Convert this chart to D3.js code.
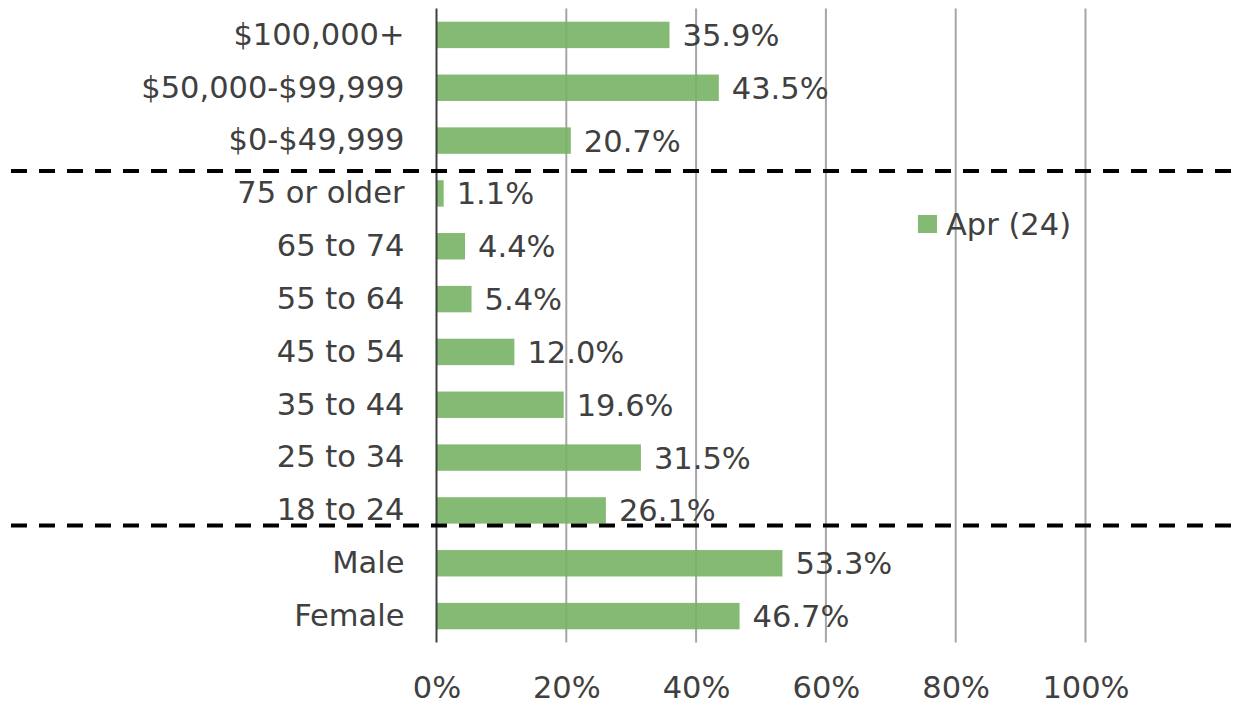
<!DOCTYPE html>
<html lang="en">
  <head>
    <meta charset="UTF-8" />
    <title>Apr (24) breakdown</title>
    <style>
      body { margin: 0; background: #fff; }
      text { font-family: "DejaVu Sans", sans-serif; fill: #404040; }
    </style>
  </head>
  <body>
    <svg width="1233" height="708"></svg>

    <script src="https://d3js.org/d3.v7.min.js"></script>
    <script>
      const categories = [
        "$100,000+", "$50,000-$99,999", "$0-$49,999",
        "75 or older", "65 to 74", "55 to 64", "45 to 54",
        "35 to 44", "25 to 34", "18 to 24",
        "Male", "Female"
      ];
      const values = [35.9, 43.5, 20.7, 1.1, 4.4, 5.4, 12.0, 19.6, 31.5, 26.1, 53.3, 46.7];
      const seriesName = "Apr (24)";
      const tickValues = [0, 20, 40, 60, 80, 100];
      // group separators sit just after these rows
      const separatorsAfter = ["$0-$49,999", "18 to 24"];

      const svg = d3.select("svg");
      const plotLeft = 436.5, plotTop = 8.5, plotBottom = 642.5;
      const fontSize = "30.5px";

      const x = d3.scaleLinear().domain([0, 100]).range([plotLeft, 1085.5]);
      const y = d3.scaleBand().domain(categories).range([plotTop, plotBottom])
        .paddingInner(0.5).paddingOuter(0.25);

      const green = "#78b266";

      // gridlines
      svg.append("g")
        .selectAll("line")
        .data(tickValues.slice(1))
        .join("line")
        .attr("x1", d => x(d)).attr("x2", d => x(d))
        .attr("y1", plotTop).attr("y2", plotBottom)
        .attr("stroke", "#a6a6a6")
        .attr("stroke-width", 2);

      // bars
      svg.append("g")
        .selectAll("rect")
        .data(values)
        .join("rect")
        .attr("x", x(0))
        .attr("y", (d, i) => y(categories[i]))
        .attr("width", d => x(d) - x(0))
        .attr("height", y.bandwidth())
        .attr("fill", green)
        .attr("fill-opacity", 0.9);

      // value labels
      svg.append("g")
        .selectAll("text")
        .data(values)
        .join("text")
        .attr("x", d => x(d) + 13)
        .attr("y", (d, i) => y(categories[i]) + y.bandwidth() / 2)
        .attr("dy", "0.36em")
        .style("font-size", fontSize)
        .text(d => d.toFixed(1) + "%");

      // category axis
      const yAxis = svg.append("g")
        .attr("transform", `translate(${plotLeft},0)`)
        .call(d3.axisLeft(y).tickSize(0).tickPadding(32));
      yAxis.select(".domain").remove();
      yAxis.selectAll("text")
        .style("font-size", fontSize)
        .attr("fill", "#404040")
        .attr("font-family", "DejaVu Sans");

      svg.append("line")
        .attr("x1", plotLeft).attr("x2", plotLeft)
        .attr("y1", plotTop).attr("y2", plotBottom)
        .attr("stroke", "#404040")
        .attr("stroke-width", 2);

      // percent axis
      const xAxis = svg.append("g")
        .attr("transform", `translate(0,${plotBottom})`)
        .call(d3.axisBottom(x).tickValues(tickValues).tickSize(0).tickPadding(34)
          .tickFormat(d => d + "%"));
      xAxis.select(".domain").remove();
      xAxis.selectAll("text")
        .style("font-size", fontSize)
        .attr("fill", "#404040")
        .attr("font-family", "DejaVu Sans");

      // dashed group separators
      const sepY = [171, 525.5];
      svg.append("g")
        .selectAll("line")
        .data(separatorsAfter)
        .join("line")
        .attr("x1", 11).attr("x2", 1233)
        .attr("y1", (d, i) => sepY[i]).attr("y2", (d, i) => sepY[i])
        .attr("stroke", "#000")
        .attr("stroke-width", 4)
        .attr("stroke-dasharray", "16 12");

      // legend
      const legend = svg.append("g").attr("transform", "translate(918,215)");
      legend.append("rect")
        .attr("width", 19).attr("height", 18)
        .attr("fill", green).attr("fill-opacity", 0.9);
      legend.append("text")
        .attr("x", 28).attr("y", 9)
        .attr("dy", "0.36em")
        .style("font-size", fontSize)
        .text(seriesName);
    </script>
  </body>
</html>
